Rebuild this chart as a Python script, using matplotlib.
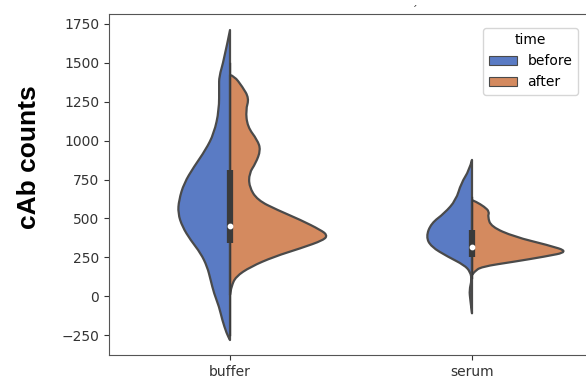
import matplotlib
matplotlib.use("Agg")
import matplotlib.pyplot as plt
from matplotlib.patches import Patch, PathPatch
from matplotlib.path import Path
import numpy as np

# categories / hue levels
categories = ["buffer", "serum"]
hues = ["before", "after"]

# violin outlines: value levels and half widths (data units)
buffer_before_y = [1711, 1518, 1411, 1347, 1197, 1047, 940, 832, 726, 618, 533, 447, 361, 276, 189, 104, 18, -68, -153, -239, -282]
buffer_before_w = [0, 0.025, 0.045, 0.045, 0.045, 0.066, 0.101, 0.149, 0.190, 0.211, 0.215, 0.197, 0.163, 0.121, 0.094, 0.080, 0.066, 0.045, 0.032, 0.014, 0]
buffer_after_y = [1422, 1416, 1347, 1272, 1197, 1090, 1004, 940, 854, 790, 704, 618, 554, 490, 425, 393, 361, 308, 254, 189, 125, 61, 8]
buffer_after_w = [0, 0.017, 0.051, 0.079, 0.065, 0.072, 0.113, 0.127, 0.106, 0.079, 0.079, 0.113, 0.196, 0.292, 0.375, 0.402, 0.388, 0.292, 0.182, 0.085, 0.023, 0.006, 0]
serum_before_y = [876, 811, 726, 618, 533, 468, 382, 318, 254, 200, 157, 104, 40, -25, -110]
serum_before_w = [0, 0.011, 0.045, 0.066, 0.114, 0.169, 0.190, 0.169, 0.100, 0.032, 0.007, 0.001, 0.011, 0.007, 0]
serum_after_y = [618, 607, 575, 543, 511, 447, 382, 329, 286, 254, 222, 189, 157, 136]
serum_after_w = [0, 0.017, 0.051, 0.072, 0.065, 0.079, 0.175, 0.313, 0.402, 0.299, 0.175, 0.037, 0.010, 0]

# inner box: whisker low, q1, median, q3, whisker high
box_stats = [[-250, 340, 453, 811, 1500],
             [120, 254, 318, 426, 640]]

colors = ["#5a7bc4", "#d48a5f"]
edge = "#4a4a4a"


def half_violin(center, yv, wv, side):
    # smooth outline (quadratic curves through midpoints), closed along the center line
    xs = center + side * np.array(wv)
    ys = np.array(yv, dtype=float)
    verts = [(xs[0], ys[0])]
    codes = [Path.MOVETO]
    for k in range(1, len(xs) - 1):
        mx = (xs[k] + xs[k + 1]) / 2
        my = (ys[k] + ys[k + 1]) / 2
        verts += [(xs[k], ys[k]), (mx, my)]
        codes += [Path.CURVE3, Path.CURVE3]
    verts += [(xs[-1], ys[-1]), (center, ys[-1]), (center, ys[0]), (xs[0], ys[0])]
    codes += [Path.LINETO, Path.LINETO, Path.LINETO, Path.CLOSEPOLY]
    return Path(verts, codes)


fig = plt.figure(figsize=(5.86, 3.85), dpi=100)
ax = fig.add_axes([109/586, 30/385, 484/586, 341/385])

profiles = [[(buffer_before_y, buffer_before_w), (buffer_after_y, buffer_after_w)],
            [(serum_before_y, serum_before_w), (serum_after_y, serum_after_w)]]

for i, cat in enumerate(categories):
    for j, (yv, wv) in enumerate(profiles[i]):
        side = -1 if j == 0 else 1
        p = PathPatch(half_violin(i, yv, wv, side), facecolor=colors[j], edgecolor=edge,
                      linewidth=1.6, joinstyle="round")
        ax.add_patch(p)
    lo, q1, med, q3, hi = box_stats[i]
    ax.plot([i, i], [lo, hi], color="#3a3a3a", linewidth=1, zorder=3)
    ax.plot([i, i], [q1, q3], color="#3a3a3a", linewidth=4.5, solid_capstyle="butt", zorder=3)
    ax.scatter([i], [med], s=10, color="white", zorder=4)

ax.set_xlim(-0.5, 1.5)
ax.set_ylim(-378, 1814)
ax.set_xticks(range(len(categories)))
ax.set_xticklabels(categories)
ax.set_yticks(np.arange(-250, 1751, 250))
ax.tick_params(labelsize=10, colors="#333333", labelcolor="#333333")
for s in ax.spines.values():
    s.set_color("#555555")

fig.text(29/586, 1 - 157/385, "cAb counts", rotation=90, va="center", ha="center",
         fontsize=19, fontweight="bold", family="Liberation Sans")
fig.text(415/586, 1 - 11/385, "´", fontsize=8, ha="center", va="center", color="#333333")

handles = [Patch(facecolor=colors[0], edgecolor=edge, linewidth=0.8),
           Patch(facecolor=colors[1], edgecolor=edge, linewidth=0.8)]
leg = ax.legend(handles, hues, title="time", fontsize=10, title_fontsize=10,
                loc="upper right", bbox_to_anchor=(585/586, 1 - 21/385),
                bbox_transform=fig.transFigure)

fig.savefig("out.png", dpi=100)
